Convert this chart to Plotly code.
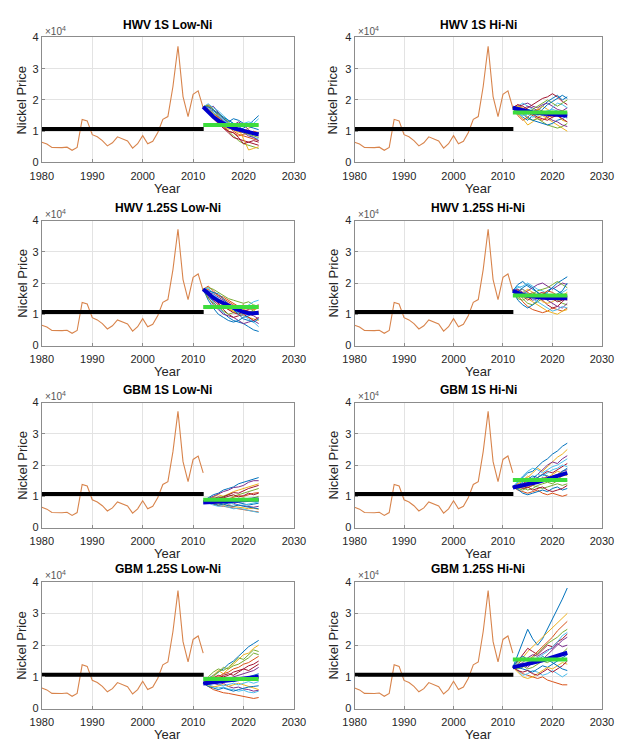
import plotly.graph_objects as go

# ---------------- data (prices in thousands of USD/t) ----------------
hist_years = list(range(1980, 2013))
hist_price = [6.5, 5.9, 4.8, 4.7, 4.75, 4.9, 3.9, 4.8, 13.8, 13.3, 8.9, 8.2, 7.0, 5.3,
              6.3, 8.2, 7.5, 6.9, 4.6, 6.0, 8.6, 6.0, 6.8, 9.6, 13.8, 14.7, 24.3,
              37.2, 21.1, 14.7, 21.8, 22.9, 17.5]
base_years = [1980, 2012.1]
base_level = [10.7, 10.7]
sim_years = list(range(2012, 2024))

titles = ["HWV 1S Low-Ni", "HWV 1S Hi-Ni", "HWV 1.25S Low-Ni", "HWV 1.25S Hi-Ni",
          "GBM 1S Low-Ni", "GBM 1S Hi-Ni", "GBM 1.25S Low-Ni", "GBM 1.25S Hi-Ni"]

paths_hwv1_lo = [
    [17.8,17.0,15.5,14.8,13.5,12.0,11.2,10.5,11.0,12.0,13.5,15.0],
    [17.8,18.5,17.0,15.0,13.0,11.5,10.0,9.0,8.5,8.0,7.5,7.0],
    [17.8,16.5,16.0,14.0,12.5,11.0,10.5,9.5,10.0,11.0,11.5,12.0],
    [17.8,17.5,18.0,16.0,14.0,12.5,12.0,13.0,12.0,10.5,9.0,8.5],
    [17.8,16.0,14.5,13.0,11.5,10.0,8.5,7.0,6.0,5.5,5.0,4.5],
    [17.8,18.8,17.5,16.5,15.0,13.5,12.5,11.0,10.0,9.0,8.0,7.5],
    [17.8,17.2,15.0,13.0,11.0,9.5,8.0,7.5,7.0,6.5,6.0,5.5],
    [17.8,16.8,16.5,15.5,14.0,13.0,14.0,13.5,12.5,11.5,11.0,10.5],
    [17.8,18.0,16.0,14.5,12.0,10.0,9.5,8.5,9.0,9.5,10.0,9.5],
    [17.8,17.0,16.0,14.0,12.0,10.5,11.5,11.0,7.5,4.0,4.5,5.0],
    [17.8,16.2,15.0,13.5,12.5,11.5,10.5,10.0,9.5,8.5,8.0,7.0],
    [17.8,18.3,17.0,15.5,14.5,13.0,11.5,10.5,9.5,9.0,8.5,8.0],
    [17.8,17.5,16.0,15.0,13.5,12.5,11.0,11.5,12.5,13.0,12.5,14.0],
    [17.8,16.5,14.0,12.5,11.0,10.0,9.5,8.0,6.0,6.5,7.0,6.5],
    [17.8,17.8,16.8,15.8,14.5,13.5,12.5,11.5,10.5,9.8,9.0,9.5],
]
mean_hwv1_lo = [17.8,16.0,14.6,13.4,12.4,11.6,11.0,10.5,10.0,9.6,9.3,9.0]
target_hwv1_lo = [12.0] * 12

paths_hwv1_hi = [
    [17.5,16.0,14.5,13.5,15.0,16.5,18.0,19.5,20.5,21.5,20.0,21.0],
    [17.5,18.5,17.0,16.0,15.0,14.0,13.5,14.5,15.5,16.0,15.0,14.5],
    [17.5,15.5,14.0,12.0,13.0,14.5,15.0,14.0,13.0,12.0,11.0,10.0],
    [17.5,17.0,18.5,19.0,18.0,17.5,18.5,19.0,18.0,17.0,16.5,17.5],
    [17.5,16.5,15.5,14.0,13.5,14.0,13.0,12.0,11.5,11.0,11.5,12.5],
    [17.5,18.0,19.0,18.0,17.0,16.0,15.0,16.0,17.5,19.0,18.5,17.5],
    [17.5,16.0,16.5,17.5,18.5,19.5,20.5,21.0,22.0,21.0,19.5,18.5],
    [17.5,17.5,16.0,14.5,13.5,13.0,12.5,12.0,12.5,13.5,14.0,15.0],
    [17.5,15.0,13.5,14.5,16.0,17.0,16.5,15.0,14.5,15.5,16.5,16.0],
    [17.5,18.0,17.5,16.5,16.0,17.0,18.0,17.0,16.0,15.0,13.5,13.0],
    [17.5,16.5,17.0,18.0,17.5,16.5,15.5,14.5,13.5,13.0,12.0,11.5],
    [17.5,17.0,15.5,16.0,17.0,18.0,19.0,20.0,19.0,18.0,19.0,20.0],
    [17.5,16.0,15.0,15.5,14.5,15.0,16.0,16.5,17.0,16.5,15.5,14.0],
    [17.5,18.5,18.0,17.0,15.5,14.5,14.0,13.5,14.5,15.0,14.0,13.0],
    [17.5,15.5,16.0,17.0,16.5,15.5,17.0,18.5,19.5,20.5,21.5,20.5],
]
mean_hwv1_hi = [17.5,17.0,16.6,16.3,16.0,15.8,15.6,15.4,15.3,15.2,15.1,15.0]
target_hwv1_hi = [16.0] * 12

paths_hwv125_lo = [
    [18.0,16.0,14.0,12.0,10.5,9.0,8.0,7.5,7.0,6.0,5.0,4.5],
    [18.0,19.0,17.5,16.0,15.0,14.0,13.0,12.5,13.0,12.0,11.5,12.0],
    [18.0,17.0,15.0,14.5,13.0,12.0,11.0,10.0,9.5,9.0,8.5,8.0],
    [18.0,15.5,13.0,11.5,10.0,9.5,9.0,8.0,7.0,7.5,8.0,7.0],
    [18.0,18.5,18.0,17.0,16.0,15.0,14.5,14.0,13.5,14.0,13.0,12.5],
    [18.0,16.5,16.0,15.0,14.0,13.0,12.0,11.5,12.0,13.0,14.0,14.5],
    [18.0,17.5,15.5,13.5,11.5,10.0,9.0,9.5,10.0,9.0,8.0,9.0],
    [18.0,14.5,12.0,10.0,9.0,8.0,7.5,8.0,9.0,9.5,10.5,10.0],
    [18.0,18.0,17.0,16.0,15.5,14.5,13.5,12.5,11.5,11.0,10.5,11.0],
    [18.0,16.0,15.5,14.0,12.5,11.5,11.0,10.5,10.0,10.5,11.0,12.5],
    [18.0,17.0,16.5,15.5,14.5,13.5,12.5,12.0,11.0,10.0,9.5,8.5],
    [18.0,15.0,13.5,12.5,11.0,10.0,10.5,11.5,12.5,12.0,11.0,10.5],
    [18.0,18.5,16.5,15.0,13.5,12.5,11.5,10.5,9.5,8.5,7.5,6.0],
    [18.0,16.5,14.5,13.0,12.5,11.5,10.5,10.0,11.0,11.5,12.5,13.0],
    [18.0,17.5,17.0,16.5,15.0,13.0,11.5,10.0,8.5,8.0,7.5,8.5],
]
mean_hwv125_lo = [18.0,16.5,15.3,14.3,13.5,12.8,12.0,11.3,10.7,10.3,10.3,10.5]
target_hwv125_lo = [12.3] * 12

paths_hwv125_hi = [
    [17.5,19.5,20.5,19.0,18.0,17.0,16.0,17.0,18.5,20.0,21.0,22.0],
    [17.5,16.0,14.0,12.5,11.5,11.0,10.5,11.0,12.0,11.5,11.0,12.0],
    [17.5,18.0,16.5,15.0,14.0,13.0,12.0,11.0,10.5,10.0,11.0,11.5],
    [17.5,15.5,16.5,17.5,18.5,19.5,20.0,19.0,18.0,19.0,20.0,19.5],
    [17.5,17.0,15.0,13.5,13.0,14.0,15.0,16.0,15.5,14.5,13.5,13.0],
    [17.5,18.5,19.0,20.0,19.0,18.0,17.5,16.5,15.5,16.0,17.0,18.0],
    [17.5,16.5,15.5,16.0,17.0,16.0,14.5,13.0,12.0,12.5,14.0,15.5],
    [17.5,14.5,13.0,12.0,13.0,14.5,16.0,17.5,18.5,17.5,16.5,15.0],
    [17.5,17.5,18.0,17.0,16.0,15.5,16.5,17.5,17.0,16.0,15.0,14.5],
    [17.5,16.0,17.0,18.0,17.0,15.5,14.0,13.5,14.0,15.0,16.0,17.0],
    [17.5,18.0,17.0,15.5,14.5,15.0,15.5,14.5,13.5,12.5,12.0,13.5],
    [17.5,15.0,14.5,15.5,16.5,17.5,18.0,18.5,19.5,20.5,19.5,18.5],
    [17.5,19.0,18.0,16.5,15.0,14.0,13.0,12.0,11.0,11.5,12.5,12.0],
    [17.5,16.5,16.0,14.5,15.5,16.5,17.0,16.0,15.0,14.0,14.5,16.0],
    [17.5,17.0,18.5,19.5,18.5,17.0,15.5,14.5,15.5,16.5,17.5,20.0],
]
mean_hwv125_hi = [17.5,16.8,16.3,15.9,15.6,15.4,15.3,15.2,15.2,15.1,15.1,15.1]
target_hwv125_hi = [16.0] * 12

paths_gbm1_lo = [
    [8.5,9.5,10.5,11.0,12.0,12.5,13.0,14.0,14.5,15.0,15.5,16.0],
    [8.5,8.0,7.5,7.0,6.8,6.5,6.2,6.0,5.8,5.5,5.2,5.0],
    [8.5,9.0,9.8,10.5,10.0,10.8,11.5,12.0,12.5,13.0,13.5,14.0],
    [8.5,8.2,8.0,8.5,8.0,7.5,7.8,7.2,7.0,6.8,6.5,6.8],
    [8.5,9.2,9.0,9.5,10.2,10.5,10.0,10.5,11.0,11.5,12.0,12.5],
    [8.5,7.8,7.2,6.8,7.0,6.5,6.0,6.2,5.8,5.5,5.0,4.8],
    [8.5,8.8,9.5,9.2,9.8,10.5,11.2,11.0,11.8,12.5,13.0,13.5],
    [8.5,8.0,8.3,7.8,7.5,7.8,8.2,8.0,7.5,7.2,7.5,7.8],
    [8.5,9.0,8.5,9.0,9.5,9.2,9.8,10.2,10.0,10.5,11.0,11.2],
    [8.5,8.3,7.8,7.5,7.2,7.0,6.8,6.5,6.3,6.0,6.2,5.8],
    [8.5,9.3,10.0,10.8,11.5,12.0,12.8,13.0,13.5,14.5,15.0,15.0],
    [8.5,8.5,8.8,8.2,8.5,9.0,8.8,9.2,9.5,9.0,9.5,10.0],
    [8.5,7.9,8.2,8.8,8.5,8.0,7.5,7.0,7.2,7.5,8.0,8.2],
    [8.5,8.7,9.2,9.8,9.5,10.0,10.5,9.8,10.2,11.0,10.5,11.0],
    [8.5,8.0,7.6,7.2,7.5,7.0,6.8,7.2,6.8,6.5,6.2,6.0],
]
mean_gbm1_lo = [8.0,8.1,8.2,8.3,8.4,8.5,8.5,8.6,8.7,8.8,8.9,9.0]
target_gbm1_lo = [8.9] * 12

paths_gbm1_hi = [
    [13.0,14.5,16.0,17.5,18.0,19.5,21.0,22.0,23.5,24.5,26.0,27.0],
    [13.0,12.0,11.5,11.0,11.5,12.0,11.0,10.5,11.0,10.5,10.0,10.5],
    [13.0,14.0,15.5,16.0,17.5,19.0,18.0,19.5,21.0,22.5,23.5,25.0],
    [13.0,13.5,13.0,14.0,14.5,15.0,16.0,15.5,16.5,17.0,18.0,18.5],
    [13.0,12.5,12.0,12.8,13.5,13.0,12.5,13.0,13.5,14.0,13.5,14.0],
    [13.0,14.8,16.5,18.0,19.0,18.5,17.5,18.5,19.5,20.0,21.0,22.0],
    [13.0,13.0,14.0,15.0,14.5,16.0,17.0,18.0,17.5,18.5,19.5,20.5],
    [13.0,12.2,11.0,10.5,11.0,11.5,12.0,11.5,12.5,13.0,12.0,12.5],
    [13.0,14.0,13.5,12.8,13.5,14.5,15.5,16.5,16.0,15.5,16.5,17.0],
    [13.0,13.8,15.0,16.5,15.5,14.5,15.0,16.0,17.0,18.0,17.5,16.5],
    [13.0,12.8,13.5,14.5,15.5,17.0,18.5,20.0,21.0,20.5,22.0,23.0],
    [13.0,12.5,12.8,12.0,12.5,13.5,14.0,14.5,14.0,15.0,15.5,15.0],
    [13.0,14.5,15.0,14.5,16.0,17.0,16.5,17.5,18.5,19.0,20.0,19.5],
    [13.0,13.2,12.5,13.0,12.0,12.5,13.0,12.0,11.5,12.0,12.5,13.5],
    [13.0,13.5,14.5,15.5,16.5,16.0,17.0,16.5,15.5,16.5,18.0,19.0],
]
mean_gbm1_hi = [12.8,13.1,13.4,13.8,14.2,14.6,15.0,15.5,16.0,16.5,17.0,17.5]
target_gbm1_hi = [15.2] * 12

paths_gbm125_lo = [
    [8.0,9.5,10.5,11.5,12.5,14.0,15.0,16.5,18.0,19.5,20.5,21.5],
    [8.0,7.0,6.0,5.5,5.0,4.8,4.5,4.2,4.0,3.5,3.2,3.5],
    [8.0,9.0,10.5,12.0,11.0,12.5,14.0,15.5,17.0,17.5,19.0,20.0],
    [8.0,8.5,8.0,7.5,8.0,7.0,6.5,6.8,6.2,6.0,5.5,5.8],
    [8.0,9.5,10.0,11.5,13.0,12.5,13.5,14.0,15.0,16.0,17.5,17.0],
    [8.0,7.5,7.0,6.5,6.8,6.2,6.0,5.5,5.8,5.2,5.0,5.5],
    [8.0,8.8,9.5,10.5,10.0,10.5,11.5,12.0,12.5,13.5,14.0,15.0],
    [8.0,7.8,8.2,8.8,9.5,9.0,8.5,9.0,9.5,10.0,10.5,11.0],
    [8.0,9.0,9.8,10.0,11.0,11.5,12.5,13.0,14.0,14.5,15.5,16.5],
    [8.0,7.2,6.8,7.2,7.5,7.0,7.5,8.0,7.5,7.0,6.5,6.0],
    [8.0,8.5,9.0,8.5,9.0,9.5,10.0,10.5,11.0,11.5,12.0,13.0],
    [8.0,10.0,11.5,12.5,12.0,13.0,14.5,16.0,15.5,17.0,18.5,18.0],
    [8.0,7.5,8.0,7.8,7.2,7.5,8.0,7.5,8.0,8.5,8.0,8.5],
    [8.0,8.8,8.5,9.5,10.5,11.0,10.5,11.5,12.5,12.0,13.0,14.0],
    [8.0,7.0,6.5,6.0,6.5,6.0,5.5,6.0,6.5,6.8,7.0,7.2],
]
mean_gbm125_lo = [7.9,8.1,8.4,8.6,8.8,9.0,9.2,9.4,9.6,9.8,9.9,10.1]
target_gbm125_lo = [9.3] * 12

paths_gbm125_hi = [
    [13.0,17.0,21.0,25.0,22.0,20.0,22.0,25.0,28.0,31.0,34.5,38.0],
    [13.0,12.0,11.0,10.5,10.0,9.5,10.0,9.0,8.5,8.0,7.5,7.5],
    [13.0,14.5,16.0,18.0,19.5,21.0,22.5,24.0,25.5,27.0,28.5,30.0],
    [13.0,13.5,14.0,13.0,14.5,16.0,15.5,17.0,18.5,20.0,21.5,22.5],
    [13.0,12.5,13.0,14.5,16.0,17.5,19.0,20.5,21.5,22.5,24.0,25.0],
    [13.0,12.0,10.5,11.0,12.0,11.5,10.5,11.0,12.0,11.0,10.0,11.0],
    [13.0,15.0,17.0,19.0,18.0,17.0,18.5,20.0,19.5,21.0,22.0,23.5],
    [13.0,13.0,12.5,12.0,11.5,12.5,13.5,13.0,14.0,15.0,16.0,17.0],
    [13.0,14.0,15.5,15.0,16.5,18.0,19.5,21.0,22.5,24.5,26.0,27.5],
    [13.0,11.5,10.0,9.5,10.0,11.0,12.0,13.0,12.5,13.5,14.5,14.0],
    [13.0,13.8,14.5,16.0,17.0,16.5,17.5,18.5,19.0,20.5,19.5,20.0],
    [13.0,12.8,13.5,12.5,13.0,14.0,15.0,14.5,15.5,16.5,17.5,19.0],
    [13.0,14.5,13.5,14.5,15.5,16.0,17.0,18.0,19.5,21.0,23.0,24.0],
    [13.0,12.0,11.5,12.0,11.0,10.5,11.5,12.5,11.5,12.5,13.5,15.0],
    [13.0,15.5,16.5,15.5,14.0,15.0,16.5,15.5,14.5,13.5,12.5,12.0],
]
mean_gbm125_hi = [13.0,13.3,13.6,14.0,14.4,14.8,15.2,15.7,16.2,16.7,17.2,17.6]
target_gbm125_hi = [15.5] * 12

panels = [
    (paths_hwv1_lo, mean_hwv1_lo, target_hwv1_lo),
    (paths_hwv1_hi, mean_hwv1_hi, target_hwv1_hi),
    (paths_hwv125_lo, mean_hwv125_lo, target_hwv125_lo),
    (paths_hwv125_hi, mean_hwv125_hi, target_hwv125_hi),
    (paths_gbm1_lo, mean_gbm1_lo, target_gbm1_lo),
    (paths_gbm1_hi, mean_gbm1_hi, target_gbm1_hi),
    (paths_gbm125_lo, mean_gbm125_lo, target_gbm125_lo),
    (paths_gbm125_hi, mean_gbm125_hi, target_gbm125_hi),
]

x_ticks = [1980, 1990, 2000, 2010, 2020, 2030]
y_ticks = [0, 10, 20, 30, 40]
y_tick_text = ["0", "1", "2", "3", "4"]

# ---------------- styling / layout ----------------
W, H = 637, 753
path_colors = ["#0072BD", "#D95319", "#EDB120", "#7E2F8E", "#77AC30", "#4DBEEE", "#A2142F"]
col_px = [(31, 293), (356, 613)]
row_px = [(32, 159), (218, 345), (403, 530), (585, 714)]
ylab_x = [10, 334]
font_family = "Liberation Sans, Arial, sans-serif"

fig = go.Figure()
annotations = []
layout_axes = {}

for i, (paths, mean, target) in enumerate(panels):
    r, c = divmod(i, 2)
    L, R = col_px[c]
    T, B = row_px[r]
    k = i + 1
    xa = "x" if k == 1 else f"x{k}"
    ya = "y" if k == 1 else f"y{k}"

    fig.add_trace(go.Scatter(x=hist_years, y=hist_price, mode="lines",
                             line=dict(color="#d8844c", width=1.1),
                             xaxis=xa, yaxis=ya, showlegend=False, hoverinfo="skip"))
    fig.add_trace(go.Scatter(x=base_years, y=base_level, mode="lines",
                             line=dict(color="black", width=4),
                             xaxis=xa, yaxis=ya, showlegend=False, hoverinfo="skip"))
    for j, p in enumerate(paths):
        fig.add_trace(go.Scatter(x=sim_years, y=p, mode="lines",
                                 line=dict(color=path_colors[j % len(path_colors)], width=1),
                                 xaxis=xa, yaxis=ya, showlegend=False, hoverinfo="skip"))
    fig.add_trace(go.Scatter(x=sim_years, y=mean, mode="lines",
                             line=dict(color="#0000cc", width=4),
                             xaxis=xa, yaxis=ya, showlegend=False, hoverinfo="skip"))
    fig.add_trace(go.Scatter(x=sim_years, y=target, mode="lines",
                             line=dict(color="#3ddc3d", width=4),
                             xaxis=xa, yaxis=ya, showlegend=False, hoverinfo="skip"))

    axcommon = dict(showline=True, linecolor="#8c8c8c", linewidth=1, mirror=True,
                    showgrid=True, gridcolor="#e3e3e3", gridwidth=1, zeroline=False,
                    ticks="inside", ticklen=3, tickcolor="#8c8c8c",
                    tickfont=dict(family=font_family, size=11, color="#262626"))
    layout_axes["xaxis" if k == 1 else f"xaxis{k}"] = dict(
        domain=[L / W, R / W], anchor=ya, range=[1980, 2030],
        tickvals=x_ticks, ticklabelstandoff=3, **axcommon)
    layout_axes["yaxis" if k == 1 else f"yaxis{k}"] = dict(
        domain=[1 - B / H, 1 - T / H], anchor=xa, range=[0, 40],
        tickvals=y_ticks, ticktext=y_tick_text, **axcommon)

    cx = (L + R) / 2
    annotations.append(dict(text=f"<b>{titles[i]}</b>", x=cx / W, y=1 - (T - 13) / H,
                            xref="paper", yref="paper", showarrow=False,
                            xanchor="center", yanchor="middle",
                            font=dict(family=font_family, size=12, color="black")))
    annotations.append(dict(text="×10<sup>4</sup>", x=(L + 1) / W, y=1 - (T - 7) / H,
                            xref="paper", yref="paper", showarrow=False,
                            xanchor="left", yanchor="middle",
                            font=dict(family=font_family, size=10, color="#555555")))
    annotations.append(dict(text="Year", x=cx / W, y=1 - (B + 26) / H,
                            xref="paper", yref="paper", showarrow=False,
                            xanchor="center", yanchor="middle",
                            font=dict(family=font_family, size=13, color="#262626")))
    annotations.append(dict(text="Nickel Price", x=ylab_x[c] / W, y=1 - ((T + B) / 2) / H,
                            xref="paper", yref="paper", showarrow=False, textangle=-90,
                            xanchor="center", yanchor="middle",
                            font=dict(family=font_family, size=13, color="#262626")))

fig.update_layout(width=W, height=H, autosize=False,
                  margin=dict(l=0, r=0, t=0, b=0),
                  paper_bgcolor="white", plot_bgcolor="white",
                  annotations=annotations, **layout_axes)

fig.write_html("out.html")
